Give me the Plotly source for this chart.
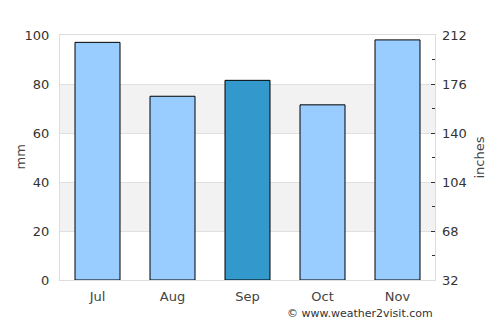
import plotly.graph_objects as go

months = ["Jul", "Aug", "Sep", "Oct", "Nov"]
rain_mm = [97, 75, 81.5, 71.5, 98]
bar_colors = ["#99ccff", "#99ccff", "#3399cc", "#99ccff", "#99ccff"]
right_ticks = [32, 68, 104, 140, 176, 212]
shade_bands = [(20, 40), (60, 80)]

fig = go.Figure()
fig.add_trace(go.Bar(
    x=months, y=rain_mm, width=0.6,
    marker=dict(color=bar_colors, line=dict(color="#000000", width=1)),
    hoverinfo="x+y", showlegend=False,
))
fig.add_trace(go.Scatter(
    x=[months[0]], y=[right_ticks[0]], yaxis="y2", mode="markers",
    marker=dict(opacity=0), showlegend=False, hoverinfo="skip",
))

for lo, hi in shade_bands:
    fig.add_shape(type="rect", xref="paper", yref="y", x0=0, x1=1, y0=lo, y1=hi,
                  fillcolor="#f2f2f2", line=dict(width=0), layer="below")

fig.update_layout(
    width=500, height=325,
    margin=dict(l=60, r=65, t=35, b=45),
    paper_bgcolor="white", plot_bgcolor="white",
    font=dict(family="DejaVu Sans", size=13, color="#444444"),
    bargap=0.4,
    xaxis=dict(showline=True, linecolor="#dddddd", linewidth=1, mirror=True,
               showgrid=False, ticks="", ticklabelstandoff=4,
               tickfont=dict(size=13, color="#444444")),
    yaxis=dict(range=[0, 100], dtick=20, showgrid=True, gridcolor="#e0e0e0",
               showline=True, linecolor="#dddddd", mirror=True, zeroline=False,
               ticks="", ticklabelstandoff=7,
               tickfont=dict(size=13, color="#333333")),
    yaxis2=dict(overlaying="y", side="right", range=[32, 212], tickvals=right_ticks,
                showgrid=False, zeroline=False, ticks="inside", ticklen=4,
                tickcolor="#333333", ticklabelstandoff=6,
                minor=dict(dtick=18, tick0=32, ticks="inside", ticklen=3, tickcolor="#333333"),
                title=dict(text="inches", font=dict(size=13, color="#444444"), standoff=9),
                tickfont=dict(size=13, color="#333333")),
    annotations=[
        dict(text="mm", xref="paper", yref="paper", x=0, y=0.5, xshift=-40,
             xanchor="center", yanchor="middle", textangle=-90, showarrow=False,
             font=dict(size=13, color="#444444")),
        dict(text="© www.weather2visit.com", xref="paper", yref="paper",
             x=1.0, y=-0.135, xanchor="right", yanchor="middle", showarrow=False,
             font=dict(size=11, color="#333333")),
    ],
)

fig.write_html("out.html")
